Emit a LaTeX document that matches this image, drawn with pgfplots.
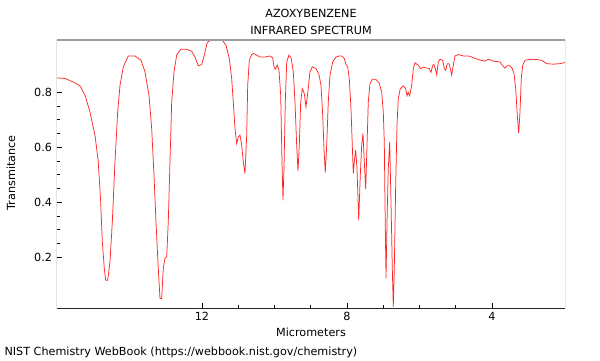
\documentclass[border=0pt]{standalone}
\usepackage{fontspec}
\setmainfont{DejaVu Sans}
\usepackage{pgfplots}
\pgfplotsset{compat=1.18}
\usepackage{pgfplotstable}
\pgfplotstableread{
x y
16.000 0.852
15.779 0.850
15.550 0.837
15.366 0.823
15.228 0.789
15.090 0.728
14.952 0.644
14.861 0.547
14.795 0.401
14.750 0.256
14.695 0.159
14.657 0.116
14.601 0.116
14.538 0.183
14.474 0.328
14.400 0.547
14.326 0.728
14.262 0.825
14.171 0.892
14.033 0.932
13.848 0.932
13.683 0.916
13.572 0.874
13.462 0.789
13.388 0.668
13.324 0.498
13.269 0.328
13.206 0.159
13.159 0.050
13.112 0.050
13.068 0.159
13.021 0.197
12.974 0.201
12.930 0.328
12.883 0.547
12.836 0.765
12.772 0.874
12.698 0.935
12.588 0.956
12.422 0.956
12.284 0.949
12.193 0.928
12.102 0.896
12.008 0.901
11.937 0.935
11.854 0.981
11.732 0.992
11.457 0.992
11.338 0.971
11.247 0.923
11.181 0.850
11.137 0.765
11.090 0.668
11.043 0.613
10.999 0.637
10.952 0.644
10.905 0.607
10.861 0.547
10.814 0.504
10.767 0.644
10.739 0.825
10.695 0.916
10.629 0.937
10.585 0.941
10.491 0.935
10.400 0.928
10.262 0.928
10.124 0.932
10.050 0.925
10.014 0.892
9.978 0.884
9.923 0.898
9.876 0.880
9.829 0.789
9.793 0.547
9.766 0.407
9.738 0.523
9.702 0.765
9.663 0.910
9.600 0.935
9.537 0.923
9.481 0.874
9.435 0.765
9.388 0.607
9.352 0.513
9.316 0.607
9.277 0.765
9.233 0.813
9.178 0.795
9.131 0.747
9.084 0.795
9.021 0.874
8.957 0.892
8.855 0.886
8.772 0.864
8.717 0.825
8.670 0.716
8.635 0.595
8.599 0.508
8.560 0.607
8.516 0.765
8.469 0.862
8.395 0.910
8.303 0.928
8.212 0.932
8.146 0.932
8.075 0.923
8.028 0.901
7.981 0.892
7.937 0.850
7.890 0.741
7.854 0.607
7.826 0.504
7.799 0.547
7.760 0.589
7.724 0.523
7.677 0.335
7.633 0.498
7.595 0.607
7.559 0.650
7.523 0.547
7.484 0.447
7.448 0.607
7.412 0.765
7.366 0.832
7.302 0.847
7.208 0.847
7.117 0.835
7.043 0.801
6.999 0.728
6.971 0.619
6.952 0.401
6.924 0.123
6.888 0.377
6.861 0.523
6.822 0.619
6.786 0.401
6.750 0.159
6.723 0.019
6.695 0.159
6.657 0.462
6.621 0.680
6.585 0.777
6.530 0.813
6.447 0.823
6.381 0.813
6.345 0.787
6.309 0.799
6.270 0.787
6.215 0.825
6.171 0.886
6.124 0.907
6.033 0.898
5.967 0.886
5.895 0.891
5.801 0.888
5.730 0.886
5.683 0.872
5.636 0.898
5.600 0.901
5.564 0.886
5.526 0.864
5.481 0.910
5.435 0.920
5.360 0.916
5.316 0.886
5.277 0.880
5.233 0.904
5.186 0.904
5.150 0.886
5.112 0.862
5.068 0.898
5.021 0.932
4.930 0.937
4.792 0.932
4.654 0.932
4.560 0.928
4.469 0.923
4.331 0.917
4.193 0.913
4.102 0.920
4.036 0.917
3.964 0.913
3.779 0.910
3.705 0.896
3.641 0.888
3.578 0.896
3.503 0.896
3.440 0.886
3.393 0.868
3.346 0.813
3.302 0.716
3.263 0.650
3.228 0.728
3.192 0.850
3.153 0.898
3.090 0.916
2.952 0.920
2.767 0.919
2.629 0.916
2.491 0.904
2.309 0.902
2.124 0.904
1.986 0.908
}\spectrum
\begin{document}
\begin{tikzpicture}[x=1bp,y=1bp]
\path[use as bounding box] (0,0) rectangle (600,360);
\begin{axis}[
  at={(57bp,52bp)}, anchor=south west,
  scale only axis, width=508bp, height=268bp,
  x dir=reverse, xmin=1.986, xmax=16,
  ymin=0.015, ymax=0.99,
  xtick={4,8,12}, minor x tick num=3,
  ytick={0.2,0.4,0.6,0.8}, minor y tick num=3,
  tick pos=left, tick align=inside,
  major tick length=5bp, minor tick length=3bp,
  every tick/.style={black, line width=0.6bp},
  /pgf/number format/assume math mode=true,
  yticklabel style={/pgf/number format/fixed, /pgf/number format/fixed zerofill, /pgf/number format/precision=1, font=\fontsize{11.2bp}{13bp}\selectfont, xshift=-1.5bp},
  xticklabel style={font=\fontsize{11.2bp}{13bp}\selectfont, yshift=-1bp},
  axis line style={draw=none},
  clip=true,
]
\addplot[draw={rgb,255:red,255;green,40;blue,40}, line width=0.75bp, no marks] table[x=x,y=y] {\spectrum};
\draw[gray!75, line width=1.3bp] (rel axis cs:0,1) -- (rel axis cs:1,1);
\draw[black!70, line width=0.9bp] (rel axis cs:1,1) -- (rel axis cs:1,0);
\draw[black!85, line width=1bp] (rel axis cs:0,1) -- (rel axis cs:0,0) -- (rel axis cs:1,0);
\end{axis}
\node[font=\fontsize{11.2bp}{13bp}\selectfont] at (311,347) {AZOXYBENZENE};
\node[font=\fontsize{11.2bp}{13bp}\selectfont] at (311,330) {INFRARED SPECTRUM};
\node[font=\fontsize{11.2bp}{13bp}\selectfont] at (311,28) {Micrometers};
\node[font=\fontsize{11.2bp}{13bp}\selectfont, rotate=90] at (11,187) {Transmitance};
\node[font=\fontsize{11.2bp}{13bp}\selectfont, anchor=west] at (1,8) {NIST Chemistry WebBook (https://webbook.nist.gov/chemistry)};
\end{tikzpicture}
\end{document}
